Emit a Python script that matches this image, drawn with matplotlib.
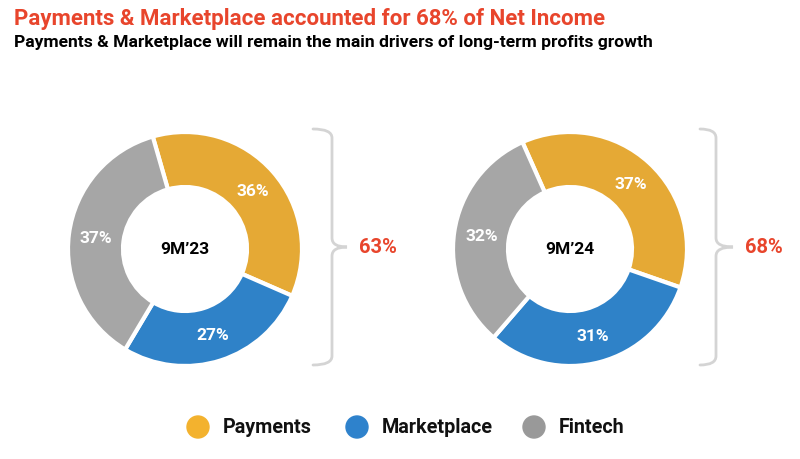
import matplotlib.pyplot as plt
from matplotlib.path import Path
from matplotlib.patches import PathPatch, Circle

plt.rcParams['font.family'] = ['Roboto', 'DejaVu Sans']

segments = ['Payments', 'Marketplace', 'Fintech']
periods = ["9M’23", "9M’24"]
shares = [[36, 27, 37], [37, 31, 32]]
core_share = ['63%', '68%']
colors = ['#E5A935', '#2F82C8', '#A6A6A6']
legend_colors = ['#F3B22E', '#2E82CC', '#999999']

W, H = 800, 460
fig = plt.figure(figsize=(8, 4.6), dpi=100)
ax = fig.add_axes([0, 0, 1, 1])

# layout in pixel coords (y measured from top)
centers = [(185, 250), (570, 250)]
starts = [106, 114]
R_OUT, R_IN = 117, 62
braces = [(313, 332, 347), (700, 716, 733)]
pct_x = [378, 764]


def brace(x0, xv, xt, ytop, ybot, ymid, r=9):
    # ytop > ybot in data coords
    verts = [(x0, ytop), (xv, ytop), (xv, ytop - r),
             (xv, ymid + r), (xv, ymid), (xt, ymid),
             (xv, ymid), (xv, ymid - r),
             (xv, ybot + r), (xv, ybot), (x0, ybot)]
    codes = [Path.MOVETO, Path.CURVE3, Path.CURVE3,
             Path.LINETO, Path.CURVE3, Path.CURVE3,
             Path.CURVE3, Path.CURVE3,
             Path.LINETO, Path.CURVE3, Path.CURVE3]
    ax.add_patch(PathPatch(Path(verts, codes), fill=False,
                           edgecolor='#D4D4D4', lw=2, capstyle='round'))


for i, vals in enumerate(shares):
    cx, cy = centers[i]
    wedges, _, autotexts = ax.pie(
        vals, center=(cx, H - cy), radius=R_OUT, startangle=starts[i],
        counterclock=False, colors=colors, autopct='%d%%',
        pctdistance=(R_OUT + R_IN) / 2 / R_OUT,
        wedgeprops=dict(width=R_OUT - R_IN, edgecolor='white', linewidth=3),
        textprops=dict(color='white', fontsize=12.5, fontweight='bold'))
    ax.text(cx, H - cy, periods[i], ha='center', va='center',
            fontsize=12.5, fontweight='bold', color='black')
    x0, xv, xt = braces[i]
    brace(x0, xv, xt, H - 130, H - 366, H - 248)
    ax.text(pct_x[i], H - 248, core_share[i], ha='center', va='center',
            fontsize=14.5, fontweight='bold', color='#E8452C')

# legend
leg_x = [198, 357, 534]
for name, c, lx in zip(segments, legend_colors, leg_x):
    ax.add_patch(Circle((lx, H - 428), 11, color=c))
    ax.text(lx + 25, H - 428, name, ha='left', va='center',
            fontsize=14.2, fontweight='bold', color='#111111')

fig.text(14 / W, 1 - 24.5 / H, 'Payments & Marketplace accounted for 68% of Net Income',
         ha='left', va='baseline', fontsize=16, fontweight='bold', color='#E8452C')
fig.text(14 / W, 1 - 46.5 / H, 'Payments & Marketplace will remain the main drivers of long-term profits growth',
         ha='left', va='baseline', fontsize=12.6, fontweight='bold', color='black')

ax.set_xlim(0, W)
ax.set_ylim(0, H)
ax.set_aspect('auto')
ax.axis('off')

fig.savefig('out.png', dpi=100, facecolor='white')
